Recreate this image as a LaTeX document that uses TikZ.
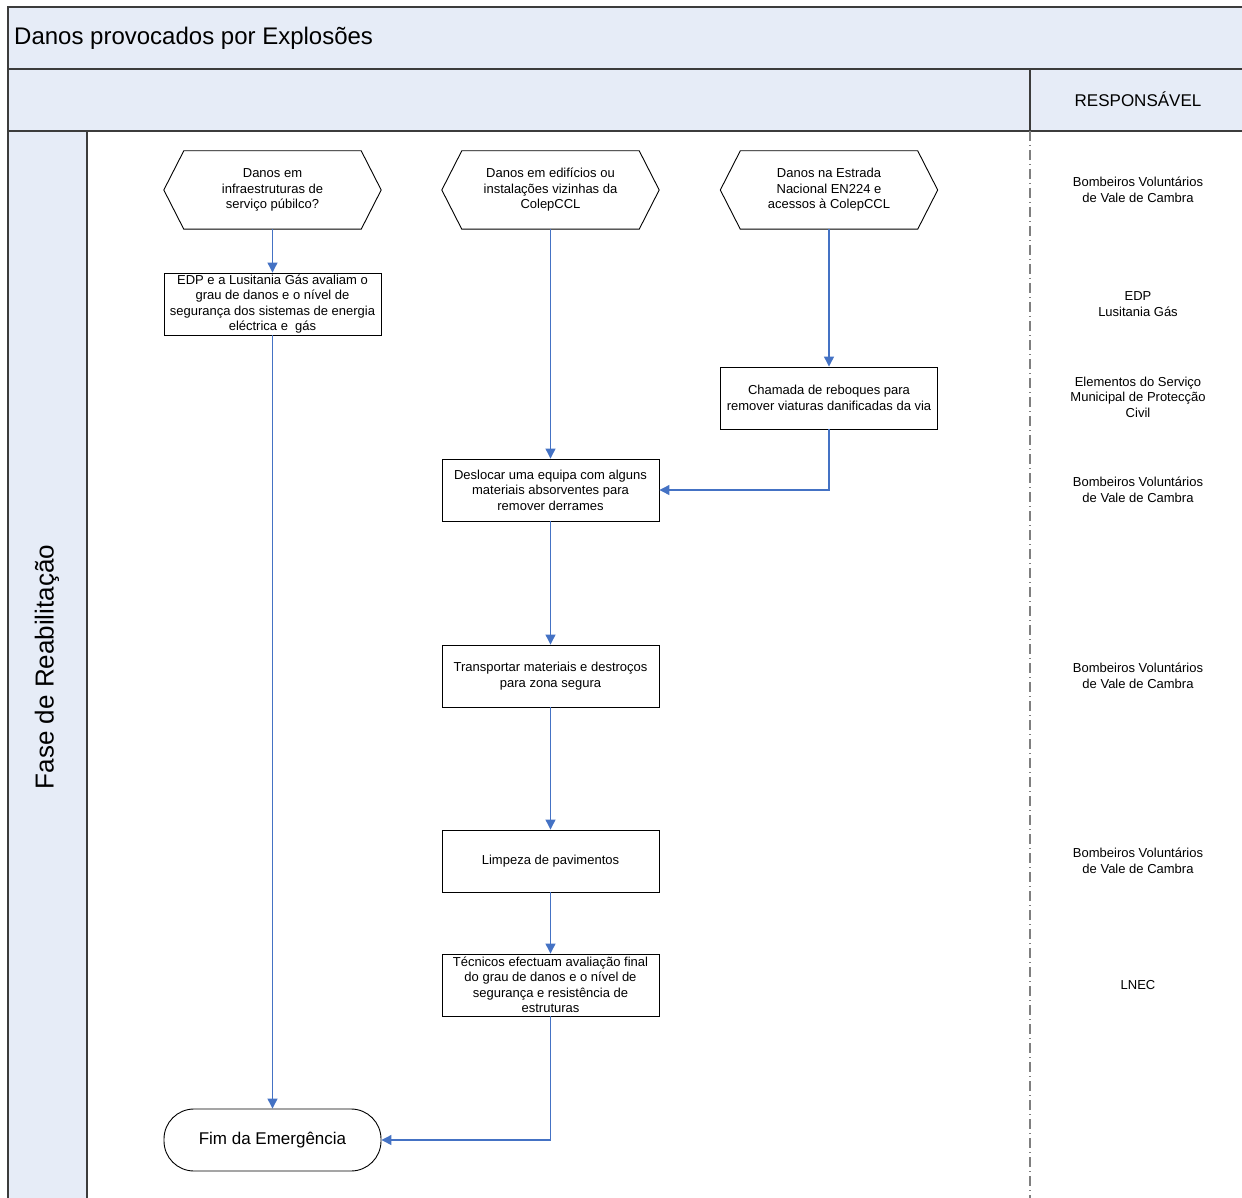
\documentclass[tikz,border=0pt]{standalone}
\usepackage{fontspec}
\setmainfont{Liberation Sans}
\usetikzlibrary{arrows.meta}
\definecolor{lanefill}{HTML}{E6ECF7}
\definecolor{frameline}{HTML}{3C3C3C}
\definecolor{flowblue}{HTML}{4472C4}
\definecolor{sepgray}{HTML}{7F7F7F}
\tikzset{
  boxfont/.style={font=\fontsize{13}{15.5}\selectfont},
  proc/.style={boxfont, draw=black, line width=0.9, minimum width=217, minimum height=62,
    inner sep=0, align=center},
  hexbox/.style={boxfont, minimum width=217, minimum height=78, inner sep=0, align=center},
  terminal/.style={draw=black, line width=0.9, minimum width=217, minimum height=62,
    inner sep=0, rounded corners=30, font=\fontsize{17}{20}\selectfont},
  resp/.style={boxfont, align=center, inner sep=0},
  flow/.style={draw=flowblue, line width=1.2, -{Triangle[length=10pt,width=10pt]}},
  frame/.style={draw=frameline, line width=1.5},
}
\begin{document}
\begin{tikzpicture}[x=1pt,y=-1pt]
\useasboundingbox (0,0) rectangle (1242,1198);
\clip (0,0) rectangle (1242,1198);

% pool header, lane label strip
\fill[lanefill] (8,7) rectangle (1260,131);
\fill[lanefill] (8,131) rectangle (87,1220);
\draw[frame] (1260,7) -- (8,7) -- (8,1220);
\draw[frame] (8,69) -- (1260,69);
\draw[frame] (8,131) -- (1260,131);
\draw[frame] (87,131) -- (87,1220);
\draw[frame] (1030,69) -- (1030,131);
\draw[sepgray, line width=1.3, dash pattern=on 10pt off 4pt on 1pt off 4pt] (1030,131) -- (1030,1220);

\node[anchor=west, font=\fontsize{24}{27}\selectfont, inner sep=0] (title) at (14,38) {Danos provocados por Explosões};
\node[font=\fontsize{17}{20}\selectfont, inner sep=0] (resphead) at (1138,99) {RESPONSÁVEL};
\node[rotate=90, font=\fontsize{26}{30}\selectfont, inner sep=0] (lane) at (47,667) {Fase de Reabilitação};

% decision hexagons
\node[hexbox] (h1) at (272.5,190) {Danos em\\infraestruturas de\\serviço púbilco?};
\node[hexbox] (h2) at (550.5,190) {Danos em edifícios ou\\instalações vizinhas da\\ColepCCL};
\node[hexbox] (h3) at (829,190) {Danos na Estrada\\Nacional EN224 e\\acessos à ColepCCL};
\foreach \h in {h1,h2,h3}{
  \draw[black, line width=0.9] (\h.west) -- ([xshift=20]\h.north west) -- ([xshift=-20]\h.north east)
    -- (\h.east) -- ([xshift=-20]\h.south east) -- ([xshift=20]\h.south west) -- cycle;
}

% process steps
\node[proc] (edp) at (272.5,304) {EDP e a Lusitania Gás avaliam o\\grau de danos e o nível de\\segurança dos sistemas de energia\\eléctrica e \ gás};
\node[proc] (reb) at (829,398) {Chamada de reboques para\\remover viaturas danificadas da via};
\node[proc] (desl) at (550.5,490) {Deslocar uma equipa com alguns\\materiais absorventes para\\remover derrames};
\node[proc] (transp) at (550.5,676) {Transportar materiais e destroços\\para zona segura};
\node[proc] (limp) at (550.5,861) {Limpeza de pavimentos};
\node[proc] (tec) at (550.5,985) {Técnicos efectuam avaliação final\\do grau de danos e o nível de\\segurança e resistência de\\estruturas};
\node[terminal] (fim) at (272.5,1140) {Fim da Emergência};

% connectors
\draw[flow] (h1.south) -- (edp.north);
\draw[flow] (edp.south) -- (fim.north);
\draw[flow] (h2.south) -- (desl.north);
\draw[flow] (h3.south) -- (reb.north);
\draw[flow] (reb.south) |- (desl.east);
\draw[flow] (desl.south) -- (transp.north);
\draw[flow] (transp.south) -- (limp.north);
\draw[flow] (limp.south) -- (tec.north);
\draw[flow] (tec.south) |- (fim.east);

% responsible parties
\node[resp] (r1) at (1138,190) {Bombeiros Voluntários\\de Vale de Cambra};
\node[resp] (r2) at (1138,304) {EDP\\Lusitania Gás};
\node[resp] (r3) at (1138,397) {Elementos do Serviço\\Municipal de Protecção\\Civil};
\node[resp] (r4) at (1138,490) {Bombeiros Voluntários\\de Vale de Cambra};
\node[resp] (r5) at (1138,676) {Bombeiros Voluntários\\de Vale de Cambra};
\node[resp] (r6) at (1138,861) {Bombeiros Voluntários\\de Vale de Cambra};
\node[resp] (r7) at (1138,985) {LNEC};
\end{tikzpicture}
\end{document}
